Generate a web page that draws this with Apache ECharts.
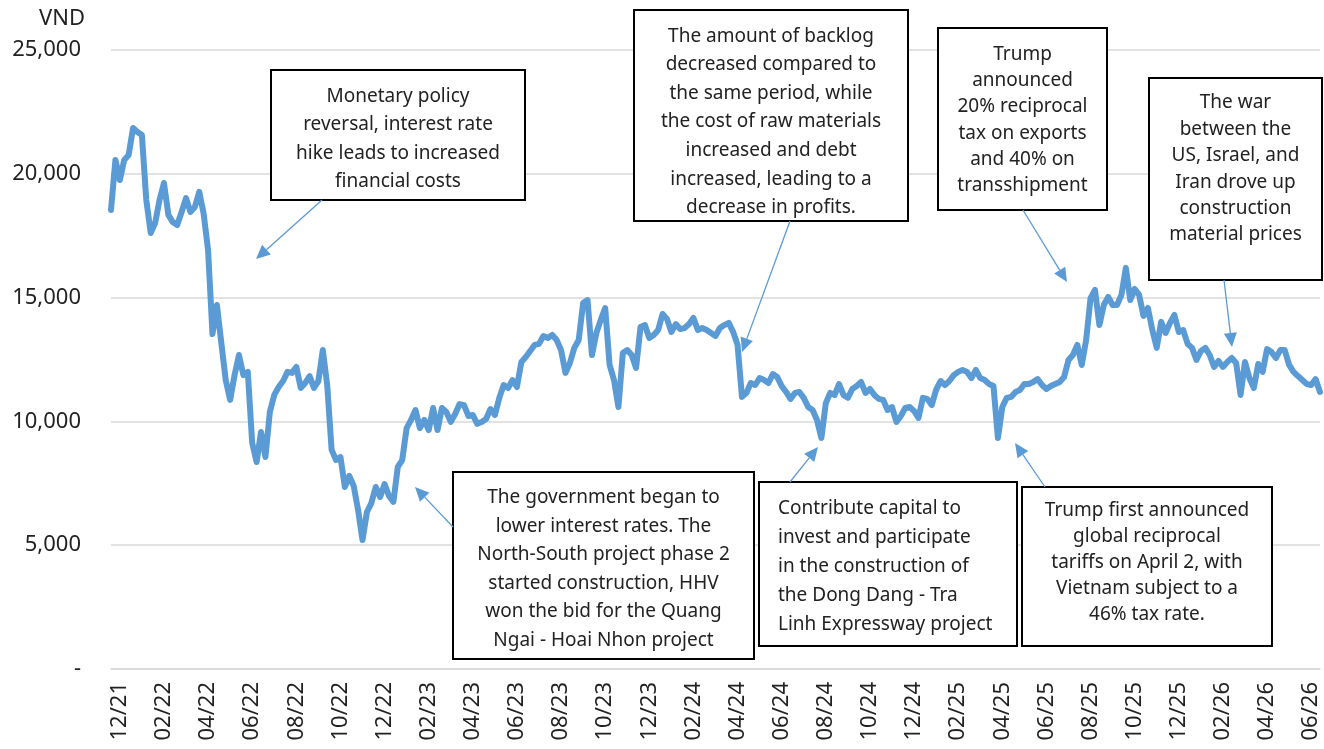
<!DOCTYPE html>
<html lang="en">
<head>
    <meta charset="UTF-8">
    <title>HHV share price</title>
    <script src="https://cdn.jsdelivr.net/npm/echarts@6/dist/echarts.min.js"></script>
    <style>
        html, body { margin: 0; padding: 0; background: #fff; }
        #container { width: 1324px; height: 749px; }
    </style>
</head>
<body>
<div id="container"></div>
<script>
    // tick labels, one every 10 points starting at point 2
    var tickLabels = ['12/21', '02/22', '04/22', '06/22', '08/22', '10/22', '12/22',
        '02/23', '04/23', '06/23', '08/23', '10/23', '12/23',
        '02/24', '04/24', '06/24', '08/24', '10/24', '12/24',
        '02/25', '04/25', '06/25', '08/25', '10/25', '12/25',
        '02/26', '04/26', '06/26'];
    var tickStart = 2, tickEvery = 10;

    // closing price, VND
    var prices = [
        18540, 20560, 19750, 20560, 20760, 21850, 21690, 21570, 18940, 17610,
        18010, 18940, 19630, 18340, 18050, 17930, 18460, 19020, 18460, 18660,
        19270, 18380, 16920, 13530, 14700, 13170, 11670, 10870, 11870, 12680,
        11870, 12000, 9130, 8360, 9570, 8560, 10380, 11070, 11390, 11630,
        12000, 11960, 12200, 11350, 11550, 11830, 11350, 11630, 12880, 11470,
        8850, 8440, 8560, 7350, 7800, 7390, 6420, 5210, 6340, 6700,
        7350, 6950, 7470, 6990, 6750, 8160, 8440, 9730, 10060, 10460,
        9730, 10060, 9650, 10540, 9650, 10540, 10380, 9980, 10300, 10700,
        10660, 10220, 10260, 9900, 9980, 10100, 10500, 10260, 10950, 11470,
        11350, 11670, 11390, 12400, 12600, 12840, 13090, 13130, 13450, 13370,
        13490, 13290, 12880, 11960, 12360, 12970, 13290, 14780, 14900, 12680,
        13570, 14100, 14580, 12280, 11670, 10580, 12760, 12880, 12680, 12160,
        13810, 13890, 13370, 13490, 13690, 14340, 14140, 13610, 13930, 13730,
        13770, 13930, 14180, 13690, 13770, 13690, 13570, 13450, 13770, 13890,
        13980, 13610, 13090, 10990, 11150, 11550, 11470, 11750, 11670, 11550,
        11910, 11790, 11430, 11190, 10910, 11150, 11190, 10950, 10580, 10460,
        10060, 9330, 10740, 11150, 11070, 11510, 11070, 10950, 11310, 11430,
        11590, 11150, 11310, 11070, 10910, 10870, 10460, 10580, 9980, 10220,
        10540, 10580, 10420, 10140, 10950, 10910, 10660, 11270, 11630, 11470,
        11630, 11870, 12000, 12080, 12000, 11750, 12080, 11750, 11670, 11510,
        11430, 9330, 10580, 10950, 10990, 11190, 11270, 11510, 11510, 11590,
        11710, 11470, 11310, 11430, 11510, 11590, 11790, 12480, 12680, 13090,
        12280, 13290, 14980, 15310, 13890, 14700, 15030, 14700, 14700, 15110,
        16200, 14900, 15350, 15110, 14260, 14580, 13690, 12970, 14020, 13570,
        13980, 14300, 13610, 13690, 13130, 12970, 12480, 12840, 12970, 12680,
        12200, 12440, 12200, 12400, 12560, 12360, 11070, 12400, 11750, 11350,
        12320, 12000, 12920, 12800, 12560, 12880, 12880, 12280, 12000, 11830,
        11670, 11510, 11470, 11710, 11190
    ];

    var categories = prices.map(function (v, i) { return String(i); });

    var blue = '#5b9bd5';
    var textColor = '#222';
    var font = '"Noto Sans", "Open Sans", sans-serif';

    // annotation boxes: [x1, y1, x2, y2, lineHeight, align, lines]
    var notes = [
        [271, 70, 525, 200, 28.6, 'center', ['Monetary policy', 'reversal, interest rate', 'hike leads to increased', 'financial costs']],
        [453, 472, 754, 659, 28.6, 'center', ['The government began to', 'lower interest rates. The', 'North-South project phase 2', 'started construction, HHV', 'won the bid for the Quang', 'Ngai - Hoai Nhon project']],
        [634, 10, 908, 221, 28.6, 'center', ['The amount of backlog', 'decreased compared to', 'the same period, while', 'the cost of raw materials', 'increased and debt', 'increased, leading to a', 'decrease in profits.']],
        [759, 482, 1017, 646, 29, 'left', ['Contribute capital to', 'invest and participate', 'in the construction of', 'the Dong Dang - Tra', 'Linh Expressway project']],
        [938, 28, 1107, 210, 26.2, 'center', ['Trump', 'announced', '20% reciprocal', 'tax on exports', 'and 40% on', 'transshipment']],
        [1022, 487, 1272, 646, 26, 'center', ['Trump first announced', 'global reciprocal', 'tariffs on April 2, with', 'Vietnam subject to a', '46% tax rate.']],
        [1149, 78, 1322, 280, 26.4, 'center', ['The war', 'between the', 'US, Israel, and', 'Iran drove up', 'construction', 'material prices']]
    ];
    // text centre y for each box
    var noteTextY = [139, 569, 122, 567, 120, 563, 169];

    // arrows: [fromX, fromY, tipX, tipY]
    var arrows = [
        [322, 200, 256, 259],
        [453, 527, 415, 487],
        [790, 221, 742, 352],
        [790, 482, 818, 447],
        [1023, 210, 1067, 282],
        [1045, 487, 1015, 443],
        [1224, 280, 1232, 347]
    ];

    var graphics = [];
    notes.forEach(function (n, k) {
        graphics.push({
            type: 'rect', z: 100,
            shape: {x: n[0], y: n[1], width: n[2] - n[0], height: n[3] - n[1]},
            style: {fill: '#fff', stroke: '#000', lineWidth: 2}
        });
        graphics.push({
            type: 'text', z: 101,
            x: n[5] === 'left' ? n[0] + 19 : (n[0] + n[2]) / 2,
            y: noteTextY[k],
            style: {
                text: n[6].join('\n'),
                fill: textColor,
                fontSize: 19,
                fontFamily: font,
                align: n[5],
                verticalAlign: 'middle',
                lineHeight: n[4]
            }
        });
    });
    arrows.forEach(function (a) {
        var dx = a[2] - a[0], dy = a[3] - a[1];
        var len = Math.sqrt(dx * dx + dy * dy);
        var ux = dx / len, uy = dy / len;
        var headLen = 14, headHalf = 6.5;
        var bx = a[2] - ux * headLen, by = a[3] - uy * headLen;
        graphics.push({
            type: 'line', z: 100,
            shape: {x1: a[0], y1: a[1], x2: bx, y2: by},
            style: {stroke: blue, lineWidth: 1.3}
        });
        graphics.push({
            type: 'polygon', z: 100,
            shape: {points: [[a[2], a[3]], [bx - uy * headHalf, by + ux * headHalf], [bx + uy * headHalf, by - ux * headHalf]]},
            style: {fill: blue}
        });
    });

    var dom = document.getElementById('container');
    var myChart = echarts.init(dom, null, {renderer: 'canvas'});

    var option = {
        backgroundColor: '#fff',
        animation: false,
        grid: {left: 111, right: 4, top: 50, bottom: 80, containLabel: false},
        xAxis: {
            type: 'category',
            data: categories,
            boundaryGap: false,
            axisLine: {show: true, lineStyle: {color: '#d9d9d9', width: 1.5}},
            axisTick: {show: false},
            axisLabel: {
                interval: function (index) {
                    return index >= tickStart && (index - tickStart) % tickEvery === 0;
                },
                formatter: function (value, index) {
                    return tickLabels[(index - tickStart) / tickEvery] || '';
                },
                rotate: 90,
                margin: 13,
                color: textColor,
                fontSize: 22,
                fontFamily: font
            },
            splitLine: {show: false}
        },
        yAxis: {
            type: 'value',
            min: 0,
            max: 25000,
            interval: 5000,
            name: 'VND',
            nameLocation: 'end',
            nameGap: 20,
            nameTextStyle: {color: textColor, fontSize: 22, fontFamily: font, align: 'right', padding: [0, 26, 0, 0]},
            axisLine: {show: false},
            axisTick: {show: false},
            axisLabel: {
                margin: 30,
                color: textColor,
                fontSize: 22,
                fontFamily: font,
                formatter: function (v) {
                    return v === 0 ? '-' : v.toLocaleString('en-US');
                }
            },
            splitLine: {lineStyle: {color: '#d9d9d9', width: 1.5}}
        },
        series: [{
            type: 'line',
            data: prices,
            showSymbol: false,
            symbol: 'none',
            lineStyle: {color: blue, width: 6, cap: 'round', join: 'round'},
            z: 3
        }],
        graphic: graphics
    };
    myChart.setOption(option);
</script>
</body>
</html>
